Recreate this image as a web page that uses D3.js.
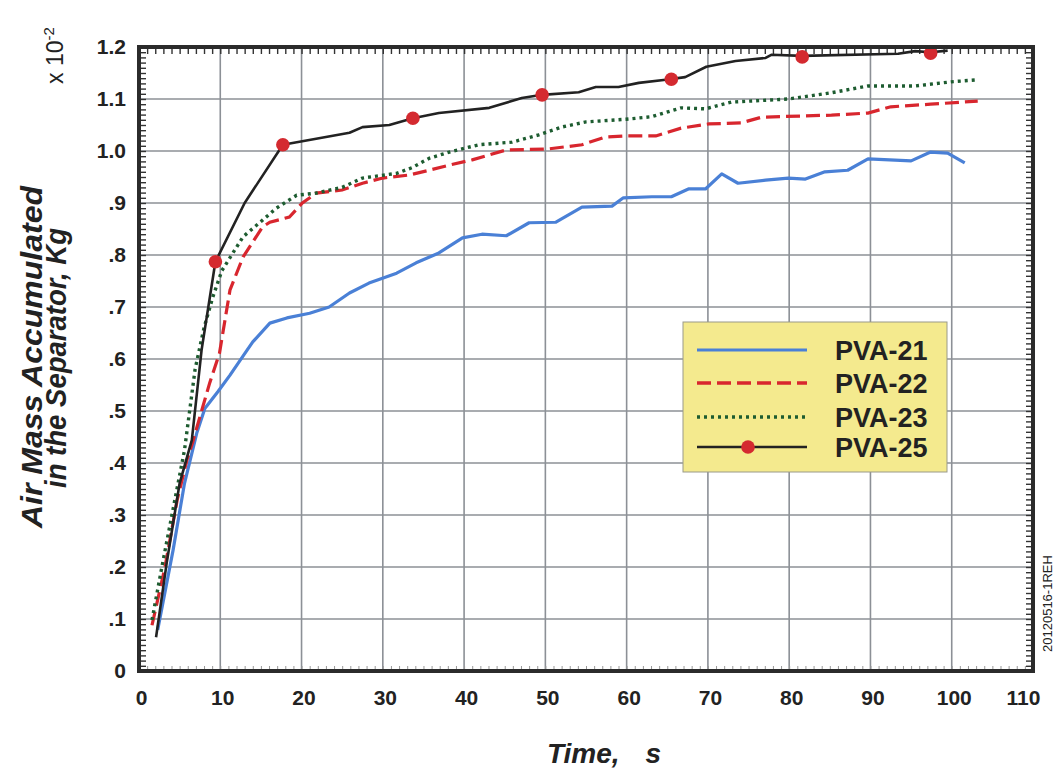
<!DOCTYPE html>
<html>
<head>
<meta charset="utf-8">
<script src="https://cdn.jsdelivr.net/npm/d3@7"></script>
<style>
  body { margin: 0; background: #fff; }
  text { font-family: "Liberation Sans", Arial, sans-serif; fill: #222; }
</style>
</head>
<body>
<script>
// Air mass accumulated in the separator
// ---------------------------------------------
var t21 = [2.3, 4.2, 5.6, 7.1, 8.1, 9.7, 11.2, 13.3, 14, 16.1, 18.2, 21, 23.4, 25.9, 28.3, 31.7, 34.1, 36.9, 39.8, 42.2,
  45.2, 48, 51.3, 54.5, 58.2, 59.6, 63.1, 65.5, 67.6, 69.7, 71.7, 73.7, 77.1, 79.9, 82, 84.4, 87.2, 89.7, 95, 97.4, 99.5, 101.6];
var v21 = [0.079, 0.233, 0.361, 0.457, 0.505, 0.537, 0.569, 0.617, 0.633, 0.669, 0.679, 0.688, 0.7, 0.727, 0.746, 0.765, 0.785, 0.804, 0.833, 0.84,
  0.837, 0.862, 0.863, 0.892, 0.894, 0.91, 0.912, 0.912, 0.927, 0.927, 0.956, 0.938, 0.944, 0.948, 0.946, 0.96, 0.963, 0.985, 0.981, 0.998, 0.996, 0.977];

var t22 = [1.6, 3.2, 4.7, 5.9, 6.6, 7.7, 8.7, 9.9, 11.2, 12.8, 15.2, 16.1, 18.5, 20.1, 21.8, 25, 27.5, 30, 33.3, 35.7, 38.2,
  41, 45.2, 50.4, 54.5, 57.4, 59.9, 63.6, 66.7, 70.1, 74.1, 76.6, 85.2, 89.7, 92.5, 97.4, 103.2];
var v22 = [0.088, 0.2, 0.329, 0.406, 0.44, 0.5, 0.554, 0.611, 0.733, 0.796, 0.854, 0.863, 0.873, 0.9, 0.919, 0.925, 0.938, 0.948, 0.954, 0.963, 0.973,
  0.983, 1.002, 1.004, 1.012, 1.027, 1.029, 1.029, 1.044, 1.052, 1.054, 1.065, 1.069, 1.073, 1.085, 1.09, 1.096];

var t23 = [1.6, 2.9, 5.6, 6.9, 8.0, 9.1, 10.2, 12.8, 15.2, 16.9, 19.4, 21.8, 25, 27.5, 31.7, 33.6, 35.7, 38.2, 41.8, 45.9,
  49.2, 52, 55, 59.9, 63.1, 66.7, 69.7, 72.9, 79.9, 85.2, 89.7, 95.5, 99.9, 103.2];
var v23 = [0.098, 0.207, 0.425, 0.58, 0.66, 0.72, 0.77, 0.835, 0.867, 0.89, 0.915, 0.919, 0.93, 0.948, 0.957, 0.968, 0.986, 0.998, 1.012, 1.017,
  1.031, 1.046, 1.056, 1.061, 1.066, 1.083, 1.081, 1.094, 1.1, 1.112, 1.125, 1.125, 1.133, 1.137];

var t25 = [2.1, 3.4, 5.0, 6.5, 7.7, 9.4, 13.0, 17.7, 25.9, 27.5, 30.8, 33.7, 36.9, 43.1, 47.1, 49.6, 54.1, 56.2, 59, 61.5,
  64.8, 67.2, 69.8, 73.4, 77.1, 77.8, 81.6, 93.4, 95.5, 97.4, 99.5];
var v25 = [0.065, 0.207, 0.361, 0.444, 0.617, 0.787, 0.9, 1.012, 1.035, 1.046, 1.05, 1.063, 1.073, 1.083, 1.102, 1.108, 1.113, 1.123, 1.123, 1.131,
  1.137, 1.142, 1.162, 1.173, 1.179, 1.185, 1.183, 1.187, 1.192, 1.19, 1.193];

// red dots on PVA-25
var t25dots = [9.4, 17.7, 33.7, 49.6, 65.5, 81.6, 97.4];
var v25dots = [0.787, 1.012, 1.063, 1.108, 1.138, 1.181, 1.188];

var xTicks = [0, 10, 20, 30, 40, 50, 60, 70, 80, 90, 100, 110];
var yTicks = [0, 0.1, 0.2, 0.3, 0.4, 0.5, 0.6, 0.7, 0.8, 0.9, 1.0, 1.1, 1.2];
var yTickLabels = ['0', '.1', '.2', '.3', '.4', '.5', '.6', '.7', '.8', '.9', '1.0', '1.1', '1.2'];
var seriesNames = ['PVA-21', 'PVA-22', 'PVA-23', 'PVA-25'];

var w = 1055;
var h = 776;
var pLeft = 139, pRight = 1033, pTop = 47, pBottom = 671;

var svg = d3.select('body').append('svg').attr('width', w).attr('height', h);

var x = d3.scaleLinear().domain([0, 110]).range([pLeft, pRight]);
var y = d3.scaleLinear().domain([0, 1.2]).range([pBottom, pTop]);

// grid
var grid = svg.append('g');
grid.selectAll('.vg').data(xTicks.slice(1, -1)).enter().append('line')
  .attr('x1', x).attr('x2', x).attr('y1', pTop).attr('y2', pBottom)
  .attr('stroke', '#8c9096').attr('stroke-width', 1.6);
grid.selectAll('.hg').data(yTicks.slice(1, -1)).enter().append('line')
  .attr('y1', y).attr('y2', y).attr('x1', pLeft).attr('x2', pRight)
  .attr('stroke', '#8c9096').attr('stroke-width', 1.6);

// minor ticks on the inside of the frame
var minorX = d3.range(1, 110);
var minorY = d3.range(1, 120).map(function(d) { return d / 100; });

svg.append('g').attr('transform', 'translate(0,' + pTop + ')')
  .call(d3.axisBottom(x).tickValues(minorX).tickSize(7).tickFormat(''))
  .call(function(g) { g.select('.domain').remove(); g.selectAll('line').attr('stroke', '#333').attr('stroke-width', 1.4); });
svg.append('g').attr('transform', 'translate(0,' + pBottom + ')')
  .call(d3.axisTop(x).tickValues(minorX).tickSize(5).tickFormat(''))
  .call(function(g) { g.select('.domain').remove(); g.selectAll('line').attr('stroke', '#999').attr('stroke-width', 1); });
svg.append('g').attr('transform', 'translate(' + pLeft + ',0)')
  .call(d3.axisRight(y).tickValues(minorY).tickSize(7).tickFormat(''))
  .call(function(g) { g.select('.domain').remove(); g.selectAll('line').attr('stroke', '#333').attr('stroke-width', 1.4); });
svg.append('g').attr('transform', 'translate(' + pRight + ',0)')
  .call(d3.axisLeft(y).tickValues(minorY).tickSize(7).tickFormat(''))
  .call(function(g) { g.select('.domain').remove(); g.selectAll('line').attr('stroke', '#333').attr('stroke-width', 1.4); });

// tick labels
svg.append('g').attr('transform', 'translate(0,' + pBottom + ')')
  .call(d3.axisBottom(x).tickValues(xTicks).tickSize(0).tickPadding(19))
  .call(function(g) {
    g.select('.domain').remove();
    g.selectAll('text').attr('font-size', '21px').attr('font-weight', 'bold')
      .attr('fill', '#222').style('font-family', '"Liberation Sans", Arial, sans-serif')
      .attr('dx', function(d) { return d === 110 ? -10 : 2; });
  });
svg.append('g').attr('transform', 'translate(' + pLeft + ',0)')
  .call(d3.axisLeft(y).tickValues(yTicks).tickSize(0).tickPadding(13)
    .tickFormat(function(d, i) { return yTickLabels[i]; }))
  .call(function(g) {
    g.select('.domain').remove();
    g.selectAll('text').attr('font-size', '21px').attr('font-weight', 'bold')
      .attr('fill', '#222').style('font-family', '"Liberation Sans", Arial, sans-serif');
  });

// series
var line = d3.line().x(function(d) { return x(d[0]); }).y(function(d) { return y(d[1]); });

svg.append('path').datum(d3.zip(t21, v21)).attr('d', line)
  .attr('fill', 'none').attr('stroke', '#4a80d6').attr('stroke-width', 3.2).attr('stroke-linejoin', 'round');
svg.append('path').datum(d3.zip(t22, v22)).attr('d', line)
  .attr('fill', 'none').attr('stroke', '#d8262e').attr('stroke-width', 3.2).attr('stroke-dasharray', '14,6');
svg.append('path').datum(d3.zip(t23, v23)).attr('d', line)
  .attr('fill', 'none').attr('stroke', '#1d5c30').attr('stroke-width', 3.4).attr('stroke-dasharray', '3,4');
svg.append('path').datum(d3.zip(t25, v25)).attr('d', line)
  .attr('fill', 'none').attr('stroke', '#222').attr('stroke-width', 2.6).attr('stroke-linejoin', 'round');
svg.selectAll('.dot').data(d3.zip(t25dots, v25dots)).enter().append('circle')
  .attr('cx', function(d) { return x(d[0]); })
  .attr('cy', function(d) { return y(d[1]); })
  .attr('r', 6.8).attr('fill', '#d42a30');

// frame
svg.append('rect').attr('x', pLeft).attr('y', pTop).attr('width', pRight - pLeft).attr('height', pBottom - pTop)
  .attr('fill', 'none').attr('stroke', '#2b2b2b').attr('stroke-width', 4);

// legend
var lg = svg.append('g').attr('transform', 'translate(683,322)');
lg.append('rect').attr('width', 264).attr('height', 150)
  .attr('fill', '#f4ea8e').attr('stroke', '#9a9a8a').attr('stroke-width', 1);
var rows = [28, 61, 95, 125];
var styles = [
  { c: '#4a80d6', dash: null, wd: 3 },
  { c: '#d8262e', dash: '14,6', wd: 3.4 },
  { c: '#1d5c30', dash: '3,4', wd: 3.4 },
  { c: '#222', dash: null, wd: 2.6 }
];
seriesNames.forEach(function(name, i) {
  var l = lg.append('line').attr('x1', 14).attr('x2', 124).attr('y1', rows[i]).attr('y2', rows[i])
    .attr('stroke', styles[i].c).attr('stroke-width', styles[i].wd);
  if (styles[i].dash) l.attr('stroke-dasharray', styles[i].dash);
  lg.append('text').attr('x', 152).attr('y', rows[i] + 10).text(name)
    .attr('font-size', '27px').attr('font-weight', 'bold');
});
lg.append('circle').attr('cx', 65).attr('cy', rows[3]).attr('r', 6.8).attr('fill', '#d42a30');

// axis titles
svg.append('text').attr('transform', 'translate(42,357) rotate(-90)')
  .attr('text-anchor', 'middle').attr('font-size', '29px').attr('font-weight', 'bold').attr('font-style', 'italic')
  .attr('textLength', 342).attr('lengthAdjust', 'spacingAndGlyphs')
  .text('Air Mass Accumulated');
svg.append('text').attr('transform', 'translate(66,358) rotate(-90)')
  .attr('text-anchor', 'middle').attr('font-size', '29px').attr('font-weight', 'bold').attr('font-style', 'italic')
  .attr('textLength', 260).attr('lengthAdjust', 'spacingAndGlyphs')
  .text('in the Separator, Kg');

var xt = svg.append('text').attr('x', 604).attr('y', 763).attr('text-anchor', 'middle')
  .attr('font-size', '28px').attr('font-weight', 'bold').attr('font-style', 'italic');
xt.append('tspan').text('Time,');
xt.append('tspan').attr('dx', 26).text('s');

// exponent
var ex = svg.append('text').attr('transform', 'translate(63,84) rotate(-90)').attr('font-size', '23px');
ex.append('tspan').text('x 10');
ex.append('tspan').attr('dy', -9).attr('font-size', '15px').text('-2');

// drawing number
svg.append('text').attr('transform', 'translate(1052,652) rotate(-90)').attr('font-size', '13px')
  .text('20120516-1REH');
</script>
</body>
</html>
